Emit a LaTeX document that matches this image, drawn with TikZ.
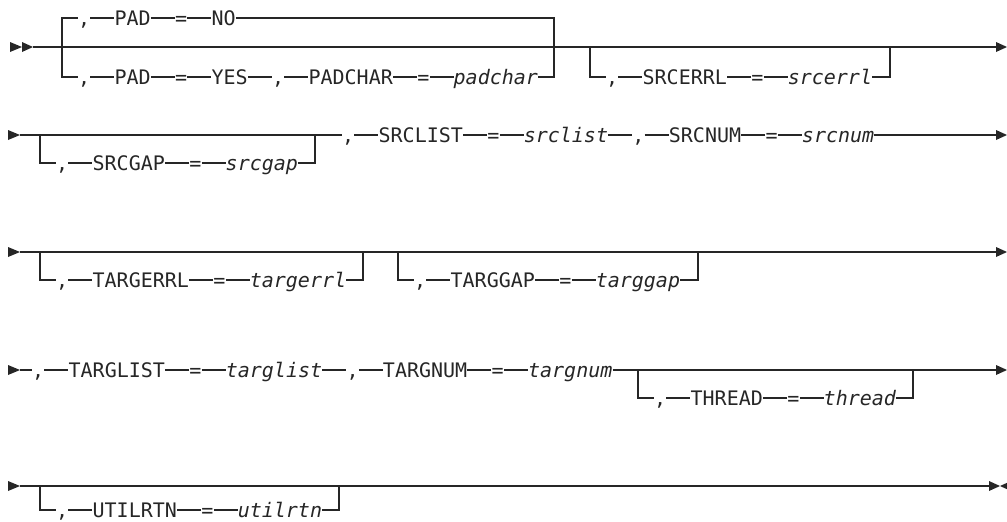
\documentclass[tikz,border=0pt]{standalone}
\usepackage{fontspec}
\newfontfamily\diagfont{DejaVu Sans Mono}
\usetikzlibrary{positioning}

\begin{document}
\begin{tikzpicture}[x=1pt,y=-1pt,
	rail/.style={line width=1.1pt, black!85},
	tip/.style={fill=black!85},
	tok/.style={inner sep=0pt, text height=14.6pt, text depth=0pt, text=black!85,
		font=\diagfont\fontsize{20}{24}\selectfont}]
	\useasboundingbox (0,0) rectangle (1007,522);

	% row 1
	\coordinate (r1s) at (33,47);
	\coordinate (r1e) at (996,47);
	\coordinate (br1l) at (62,47);
	\coordinate (br1r) at (554,47);
	\coordinate (br2l) at (590,47);
	\coordinate (br2r) at (890,47);
	\fill[tip] (10,42)--(22,47)--(10,52)--cycle;
	\fill[tip] (22,42)--(33,47)--(22,52)--cycle;
	\draw[rail] (r1s)--(r1e);
	\fill[tip] (996,42)--(1007,47)--(996,52)--cycle;

	\node[tok, anchor=west] (a1) at (78,18) {,};
	\node[tok, right=24pt of a1] (a2) {PAD};
	\node[tok, right=24pt of a2] (a3) {=};
	\node[tok, right=24pt of a3] (a4) {NO};
	\draw[rail] (br1l) |- (a1);
	\foreach \p/\q in {a1/a2,a2/a3,a3/a4} \draw[rail] (\p)--(\q);
	\draw[rail] (a4) -| (br1r);

	\node[tok, anchor=west] (b1) at (78,77) {,};
	\node[tok, right=24pt of b1] (b2) {PAD};
	\node[tok, right=24pt of b2] (b3) {=};
	\node[tok, right=24pt of b3] (b4) {YES};
	\node[tok, right=24pt of b4] (b5) {,};
	\node[tok, right=24pt of b5] (b6) {PADCHAR};
	\node[tok, right=24pt of b6] (b7) {=};
	\node[tok, right=24pt of b7] (b8) {\itshape padchar};
	\draw[rail] (br1l) |- (b1);
	\foreach \p/\q in {b1/b2,b2/b3,b3/b4,b4/b5,b5/b6,b6/b7,b7/b8} \draw[rail] (\p)--(\q);
	\draw[rail] (b8) -| (br1r);

	\node[tok, anchor=west] (c1) at (606,77) {,};
	\node[tok, right=24pt of c1] (c2) {SRCERRL};
	\node[tok, right=24pt of c2] (c3) {=};
	\node[tok, right=24pt of c3] (c4) {\itshape srcerrl};
	\draw[rail] (br2l) |- (c1);
	\foreach \p/\q in {c1/c2,c2/c3,c3/c4} \draw[rail] (\p)--(\q);
	\draw[rail] (c4) -| (br2r);

	% row 2
	\coordinate (r2s) at (20,135);
	\coordinate (r2e) at (996,135);
	\coordinate (br3l) at (40,135);
	\coordinate (br3r) at (315,135);
	\fill[tip] (8,130)--(20,135)--(8,140)--cycle;
	\fill[tip] (996,130)--(1007,135)--(996,140)--cycle;

	\node[tok, anchor=west] (d1) at (56,163) {,};
	\node[tok, right=24pt of d1] (d2) {SRCGAP};
	\node[tok, right=24pt of d2] (d3) {=};
	\node[tok, right=24pt of d3] (d4) {\itshape srcgap};
	\draw[rail] (br3l) |- (d1);
	\foreach \p/\q in {d1/d2,d2/d3,d3/d4} \draw[rail] (\p)--(\q);
	\draw[rail] (d4) -| (br3r);

	\node[tok, anchor=west] (e1) at (342,135) {,};
	\node[tok, right=24pt of e1] (e2) {SRCLIST};
	\node[tok, right=24pt of e2] (e3) {=};
	\node[tok, right=24pt of e3] (e4) {\itshape srclist};
	\node[tok, right=24pt of e4] (e5) {,};
	\node[tok, right=24pt of e5] (e6) {SRCNUM};
	\node[tok, right=24pt of e6] (e7) {=};
	\node[tok, right=24pt of e7] (e8) {\itshape srcnum};
	\draw[rail] (r2s)--(e1);
	\foreach \p/\q in {e1/e2,e2/e3,e3/e4,e4/e5,e5/e6,e6/e7,e7/e8} \draw[rail] (\p)--(\q);
	\draw[rail] (e8)--(r2e);

	% row 3
	\coordinate (r3s) at (20,252);
	\coordinate (r3e) at (996,252);
	\coordinate (br4l) at (40,252);
	\coordinate (br4r) at (363,252);
	\coordinate (br5l) at (398,252);
	\coordinate (br5r) at (698,252);
	\fill[tip] (8,247)--(20,252)--(8,257)--cycle;
	\draw[rail] (r3s)--(r3e);
	\fill[tip] (996,247)--(1007,252)--(996,257)--cycle;

	\node[tok, anchor=west] (f1) at (56,280) {,};
	\node[tok, right=24pt of f1] (f2) {TARGERRL};
	\node[tok, right=24pt of f2] (f3) {=};
	\node[tok, right=24pt of f3] (f4) {\itshape targerrl};
	\draw[rail] (br4l) |- (f1);
	\foreach \p/\q in {f1/f2,f2/f3,f3/f4} \draw[rail] (\p)--(\q);
	\draw[rail] (f4) -| (br4r);

	\node[tok, anchor=west] (g1) at (414,280) {,};
	\node[tok, right=24pt of g1] (g2) {TARGGAP};
	\node[tok, right=24pt of g2] (g3) {=};
	\node[tok, right=24pt of g3] (g4) {\itshape targgap};
	\draw[rail] (br5l) |- (g1);
	\foreach \p/\q in {g1/g2,g2/g3,g3/g4} \draw[rail] (\p)--(\q);
	\draw[rail] (g4) -| (br5r);

	% row 4
	\coordinate (r4s) at (20,370);
	\coordinate (r4e) at (996,370);
	\coordinate (br6l) at (638,370);
	\coordinate (br6r) at (913,370);
	\fill[tip] (8,365)--(20,370)--(8,375)--cycle;
	\fill[tip] (996,365)--(1007,370)--(996,375)--cycle;

	\node[tok, anchor=west] (h1) at (32,370) {,};
	\node[tok, right=24pt of h1] (h2) {TARGLIST};
	\node[tok, right=24pt of h2] (h3) {=};
	\node[tok, right=24pt of h3] (h4) {\itshape targlist};
	\node[tok, right=24pt of h4] (h5) {,};
	\node[tok, right=24pt of h5] (h6) {TARGNUM};
	\node[tok, right=24pt of h6] (h7) {=};
	\node[tok, right=24pt of h7] (h8) {\itshape targnum};
	\draw[rail] (r4s)--(h1);
	\foreach \p/\q in {h1/h2,h2/h3,h3/h4,h4/h5,h5/h6,h6/h7,h7/h8} \draw[rail] (\p)--(\q);
	\draw[rail] (h8)--(r4e);

	\node[tok, anchor=west] (k1) at (654,398) {,};
	\node[tok, right=24pt of k1] (k2) {THREAD};
	\node[tok, right=24pt of k2] (k3) {=};
	\node[tok, right=24pt of k3] (k4) {\itshape thread};
	\draw[rail] (br6l) |- (k1);
	\foreach \p/\q in {k1/k2,k2/k3,k3/k4} \draw[rail] (\p)--(\q);
	\draw[rail] (k4) -| (br6r);

	% row 5
	\coordinate (r5s) at (20,486);
	\coordinate (r5e) at (989,486);
	\coordinate (br7l) at (40,486);
	\coordinate (br7r) at (339,486);
	\fill[tip] (8,481)--(20,486)--(8,491)--cycle;
	\draw[rail] (r5s)--(r5e);
	\fill[tip] (989,481)--(1000,486)--(989,491)--cycle;
	\fill[tip] (1011,481)--(1000,486)--(1011,491)--cycle;

	\node[tok, anchor=west] (u1) at (56,510) {,};
	\node[tok, right=24pt of u1] (u2) {UTILRTN};
	\node[tok, right=24pt of u2] (u3) {=};
	\node[tok, right=24pt of u3] (u4) {\itshape utilrtn};
	\draw[rail] (br7l) |- (u1);
	\foreach \p/\q in {u1/u2,u2/u3,u3/u4} \draw[rail] (\p)--(\q);
	\draw[rail] (u4) -| (br7r);
\end{tikzpicture}
\end{document}
